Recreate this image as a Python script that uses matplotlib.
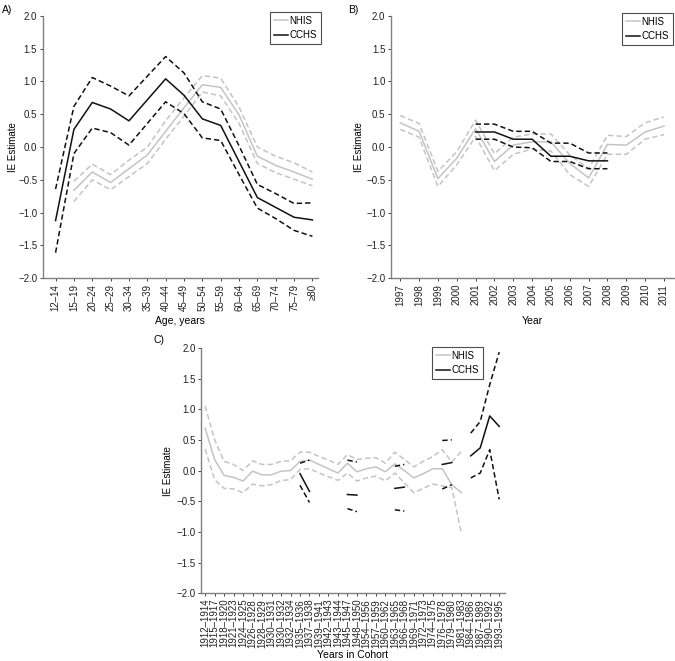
import numpy as np
import matplotlib
matplotlib.use('Agg')
import matplotlib.pyplot as plt

plt.rcParams['font.family'] = ['Liberation Sans', 'DejaVu Sans']

nan = np.nan

# A) 年龄
age_labels = ['12–14', '15–19', '20–24', '25–29', '30–34', '35–39', '40–44', '45–49',
              '50–54', '55–59', '60–64', '65–69', '70–74', '75–79', '≥80']
a_cchs = [-1.12, 0.27, 0.68, 0.58, 0.40, 0.72, 1.04, 0.79, 0.43, 0.33, -0.22, -0.77, -0.92, -1.07, -1.11]
a_cchs_hi = [-0.64, 0.62, 1.06, 0.93, 0.78, 1.08, 1.38, 1.13, 0.69, 0.58, 0.02, -0.57, -0.71, -0.86, -0.85]
a_cchs_lo = [-1.61, -0.10, 0.29, 0.22, 0.03, 0.36, 0.69, 0.51, 0.14, 0.10, -0.42, -0.93, -1.09, -1.27, -1.36]
a_nhis = [nan, -0.66, -0.38, -0.54, -0.33, -0.12, 0.24, 0.60, 0.95, 0.91, 0.49, -0.14, -0.28, -0.38, -0.49]
a_nhis_hi = [nan, -0.52, -0.26, -0.42, -0.20, 0.00, 0.40, 0.75, 1.09, 1.05, 0.61, 0.00, -0.14, -0.24, -0.38]
a_nhis_lo = [nan, -0.83, -0.50, -0.65, -0.45, -0.25, 0.12, 0.47, 0.84, 0.78, 0.36, -0.25, -0.39, -0.49, -0.59]

# B) 年份
year_labels = [str(y) for y in range(1997, 2012)]
b_nhis = [0.37, 0.24, -0.48, -0.17, 0.28, -0.22, 0.03, 0.08, 0.08, -0.25, -0.47, 0.04, 0.03, 0.23, 0.32]
b_nhis_hi = [0.48, 0.36, -0.37, -0.07, 0.41, -0.10, 0.15, 0.20, 0.20, -0.12, -0.33, 0.18, 0.16, 0.37, 0.46]
b_nhis_lo = [0.27, 0.15, -0.60, -0.27, 0.16, -0.36, -0.11, -0.03, -0.06, -0.42, -0.60, -0.11, -0.11, 0.12, 0.19]
b_cchs = [nan, nan, nan, nan, 0.23, 0.23, 0.12, 0.12, -0.14, -0.14, -0.21, -0.21, nan, nan, nan]
b_cchs_hi = [nan, nan, nan, nan, 0.35, 0.35, 0.24, 0.24, 0.06, 0.06, -0.09, -0.09, nan, nan, nan]
b_cchs_lo = [nan, nan, nan, nan, 0.12, 0.12, 0.00, -0.01, -0.22, -0.22, -0.33, -0.33, nan, nan, nan]

# C) 出生队列
cohort_labels = ['1912–1914', '1915–1917', '1918–1920', '1921–1923', '1924–1925', '1926–1928',
                 '1928–1929', '1930–1931', '1930–1932', '1932–1934', '1935–1936', '1937–1938',
                 '1939–1941', '1942–1943', '1943–1944', '1945–1947', '1948–1950', '1954–1956',
                 '1957–1959', '1960–1962', '1963–1965', '1966–1968', '1969–1971', '1972–1973',
                 '1974–1975', '1976–1978', '1979–1980', '1981–1983', '1984–1986', '1987–1989',
                 '1990–1992', '1993–1995']
c_nhis = [0.69, 0.18, -0.08, -0.11, -0.17, -0.01, -0.07, -0.07, -0.01, 0.00, 0.15, 0.17, 0.10, 0.03,
          -0.04, 0.12, -0.02, 0.03, 0.06, -0.02, 0.11, 0.00, -0.12, -0.05, 0.03, 0.03, -0.23, -0.36,
          nan, nan, nan, nan]
c_nhis_hi = [1.05, 0.50, 0.15, 0.10, 0.00, 0.16, 0.10, 0.10, 0.15, 0.16, 0.30, 0.30, 0.23, 0.17,
             0.10, 0.26, 0.18, 0.20, 0.21, 0.12, 0.30, 0.18, 0.06, 0.15, 0.23, 0.34, 0.14, 0.31,
             nan, nan, nan, nan]
c_nhis_lo = [0.35, -0.15, -0.29, -0.30, -0.36, -0.22, -0.25, -0.23, -0.16, -0.15, 0.02, 0.03, -0.04, -0.10,
             -0.16, -0.04, -0.17, -0.12, -0.09, -0.17, -0.04, -0.20, -0.36, -0.29, -0.22, -0.25, -0.28, -1.01,
             nan, nan, nan, nan]
c_cchs = [nan] * 10 + [-0.05, -0.34, nan, nan, nan, -0.39, -0.40, nan, nan, nan, -0.29, -0.27,
                       nan, nan, nan, 0.10, 0.13, nan, 0.24, 0.37, 0.89, 0.72]
c_cchs_hi = [nan] * 10 + [0.12, 0.17, nan, nan, nan, 0.17, 0.14, nan, nan, nan, 0.07, 0.10,
                          nan, nan, nan, 0.49, 0.50, nan, 0.61, 0.80, 1.40, 1.93]
c_cchs_lo = [nan] * 10 + [-0.24, -0.52, nan, nan, nan, -0.62, -0.67, nan, nan, nan, -0.64, -0.66,
                          nan, nan, nan, -0.30, -0.23, nan, -0.12, -0.04, 0.34, -0.47]

GREY = '#c4c4c4'
BLACK = '#111111'
FS = 7


def draw_panel(ax, labels, nhis, nhis_hi, nhis_lo, cchs, cchs_hi, cchs_lo, xlabel, xlim,
               legend_anchor, ylab_x, xlab_y):
    x = np.arange(len(labels))
    ax.plot(x, nhis, color=GREY, lw=1.1, label='NHIS')
    ax.plot(x, nhis_hi, color=GREY, lw=1.1, ls=(0, (3.5, 2)))
    ax.plot(x, nhis_lo, color=GREY, lw=1.1, ls=(0, (3.5, 2)))
    ax.plot(x, cchs, color=BLACK, lw=1.1, label='CCHS')
    ax.plot(x, cchs_hi, color=BLACK, lw=1.1, ls=(0, (3.5, 2)))
    ax.plot(x, cchs_lo, color=BLACK, lw=1.1, ls=(0, (3.5, 2)))

    ax.set_xlim(*xlim)
    ax.set_ylim(-2.0, 2.0)
    ax.set_yticks(np.arange(-2.0, 2.01, 0.5))
    ax.set_yticklabels([f'{v:.1f}'.replace('-', '−') for v in np.arange(-2.0, 2.01, 0.5)], fontsize=FS)
    ax.set_xticks(x)
    ax.set_xticklabels(labels, rotation=90, fontsize=FS)
    ax.set_xlabel(xlabel, fontsize=FS + 0.5)
    ax.set_ylabel('IE Estimate', fontsize=FS)
    ax.yaxis.set_label_coords(ylab_x, 0.5)
    ax.xaxis.set_label_coords(0.5, xlab_y)

    for side in ('top', 'right'):
        ax.spines[side].set_visible(False)
    for side in ('left', 'bottom'):
        ax.spines[side].set_color('#808080')
        ax.spines[side].set_linewidth(1.0)
    ax.tick_params(length=2.5, width=0.7, color='#444444', pad=1.5, labelcolor='#222222')

    leg = ax.legend(loc='upper right', bbox_to_anchor=legend_anchor, bbox_transform=ax.figure.transFigure,
                    fontsize=FS, frameon=True, fancybox=False, handlelength=1.4, handletextpad=0.2,
                    borderpad=0.4, labelspacing=0.45, borderaxespad=0)
    leg.get_frame().set_edgecolor('#222222')
    leg.get_frame().set_linewidth(0.8)


fig = plt.figure(figsize=(6.75, 6.61), dpi=100)

ax_a = fig.add_axes([0.0633, 0.579, 0.4077, 0.397])
draw_panel(ax_a, age_labels, a_nhis, a_nhis_hi, a_nhis_lo, a_cchs, a_cchs_hi, a_cchs_lo,
           'Age, years', (-0.7, 14.3), (321 / 675, 1 - 12 / 661), -0.0915, -0.144)

ax_b = fig.add_axes([0.579, 0.579, 0.42, 0.397])
draw_panel(ax_b, year_labels, b_nhis, b_nhis_hi, b_nhis_lo, b_cchs, b_cchs_hi, b_cchs_lo,
           'Year', (-0.5, 14.55), (673 / 675, 1 - 13 / 661), -0.093, -0.144)

ax_c = fig.add_axes([0.298, 0.1024, 0.45, 0.3714])
draw_panel(ax_c, cohort_labels, c_nhis, c_nhis_hi, c_nhis_lo, c_cchs, c_cchs_hi, c_cchs_lo,
           'Years in Cohort', (-0.42, 31.6), (483 / 675, 1 - 347 / 661), -0.094, -0.232)

fig.text(2 / 675, 1 - 10 / 661, 'A)', fontsize=FS + 0.5, va='center', ha='left')
fig.text(348 / 675, 1 - 10 / 661, 'B)', fontsize=FS + 0.5, va='center', ha='left')
fig.text(153 / 675, 1 - 340 / 661, 'C)', fontsize=FS + 0.5, va='center', ha='left')

plt.savefig('out.png', dpi=100)
plt.close()
